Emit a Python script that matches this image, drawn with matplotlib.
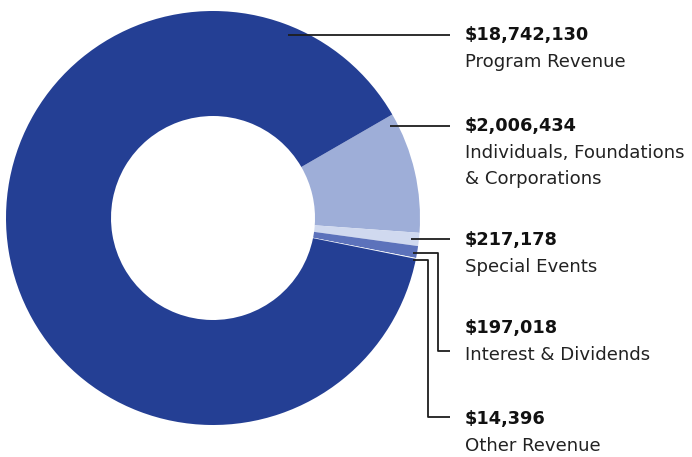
import matplotlib.pyplot as plt

# revenue sources, clockwise from the top boundary
labels = ["Individuals, Foundations\n& Corporations", "Special Events",
          "Interest & Dividends", "Other Revenue", "Program Revenue"]
amounts = [2006434, 217178, 197018, 14396, 18742130]
colors = ["#9eaed8", "#d0d9ef", "#5c72bb", "#ffffff", "#243f94"]

W, H = 692, 457
fig = plt.figure(figsize=(W / 100, H / 100), dpi=100)
ax = fig.add_axes([0, 0, 1, 1])

cx, cy, r = 213, H - 218, 207
ax.pie(amounts, colors=colors, startangle=30, counterclock=False,
       radius=r, center=(cx, cy),
       wedgeprops=dict(width=105, linewidth=0))
ax.set_xlim(0, W)
ax.set_ylim(0, H)
ax.set_aspect("equal")
ax.axis("off")

# label blocks: (label index, y of value line in pixels, leader polyline)
blocks = [
    (4, 35, [(288, 35), (450, 35)]),
    (0, 126, [(390, 126), (450, 126)]),
    (1, 240, [(411, 239), (450, 239)]),
    (2, 328, [(413, 253), (438, 253), (438, 351), (450, 351)]),
    (3, 419, [(413, 260), (428, 260), (428, 417), (450, 417)]),
]

tx = 465
for idx, y, pts in blocks:
    ax.plot([p[0] for p in pts], [H - p[1] for p in pts],
            color="#1e1e1e", lw=1.3, solid_capstyle="butt")
    ax.text(tx, H - y, "${:,}".format(amounts[idx]), fontsize=12.8,
            fontweight="bold", family="DejaVu Sans", color="#111111", va="center")
    for k, line in enumerate(labels[idx].split("\n")):
        ax.text(tx, H - y - 27 - 26 * k, line, fontsize=13.1, family="DejaVu Sans",
                color="#222222", va="center")

fig.savefig("out.png", dpi=100)
